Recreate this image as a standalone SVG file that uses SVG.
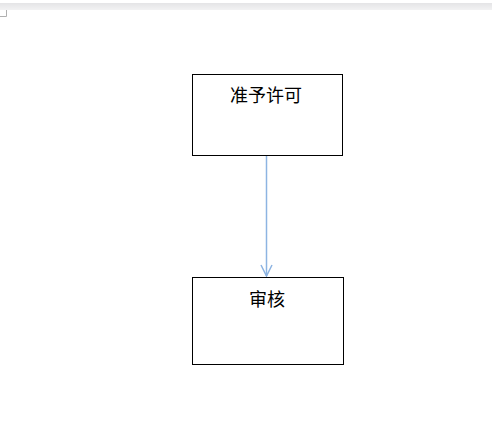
<svg xmlns="http://www.w3.org/2000/svg" width="492" height="424" viewBox="0 0 492 424">
<style>
.box{fill:#fff;stroke:#000;stroke-width:1}
.lbl{font-family:"Liberation Serif","Noto Sans CJK SC",serif;font-size:18px;fill:#000;text-anchor:middle}
.conn{stroke:#8db4e2;stroke-width:1.5;fill:none}
</style>
<defs>
<linearGradient id="bar" x1="0" y1="0" x2="0" y2="1">
<stop offset="0" stop-color="#e4e4e6"/>
<stop offset="1" stop-color="#f2f2f3"/>
</linearGradient>
</defs>
<rect width="492" height="424" fill="#fff"/>
<rect x="0" y="3" width="492" height="7" fill="url(#bar)"/>
<path d="M0 16.5H6.5V10" fill="none" stroke="#b0b0b0" stroke-width="1"/>
<g id="connectors">
<path class="conn" d="M266.5 155.5V276"/>
<path class="conn" d="M261 265L266.5 276L272 265"/>
</g>
<g id="node1">
<rect class="box" x="192.5" y="74.5" width="150" height="81"/>
<text class="lbl" x="266" y="102">准予许可</text>
</g>
<g id="node2">
<rect class="box" x="192.5" y="277.5" width="151" height="87"/>
<text class="lbl" x="267" y="306">审核</text>
</g>
</svg>
